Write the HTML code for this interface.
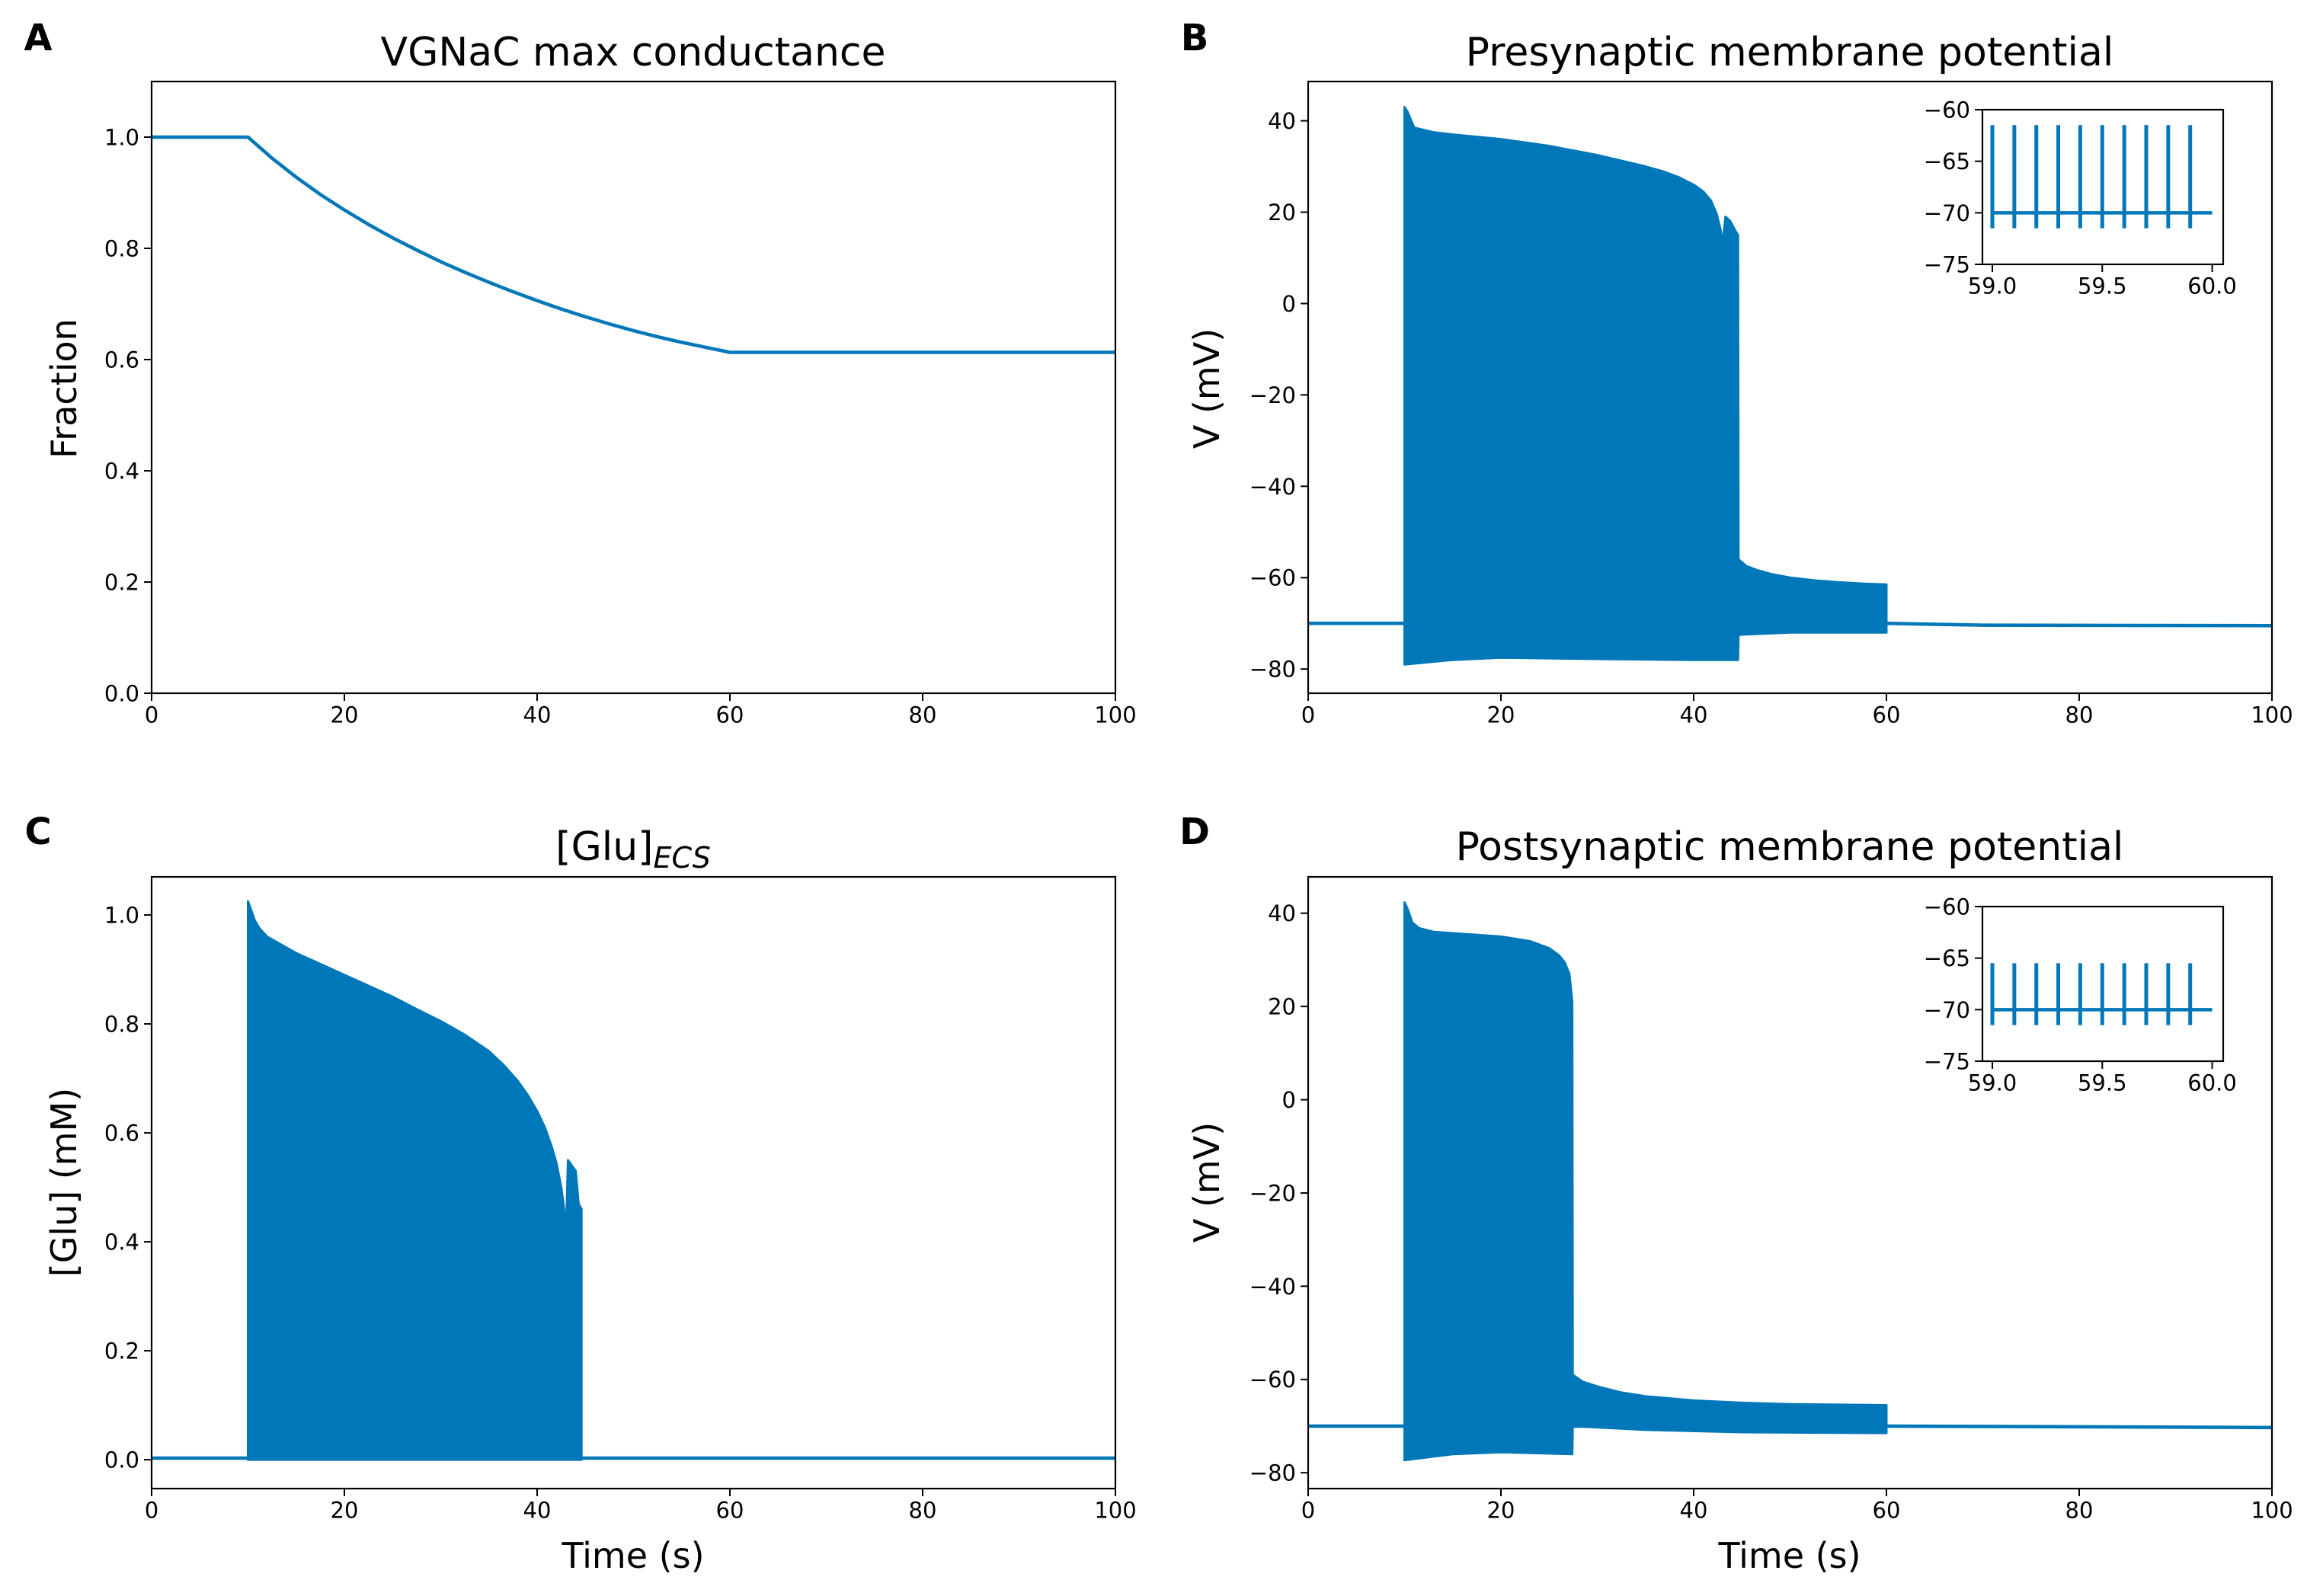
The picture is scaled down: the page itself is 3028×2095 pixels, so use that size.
<!DOCTYPE html>
<html><head><meta charset="utf-8">
<style>
html,body{margin:0;padding:0;background:#fff;}
svg{display:block;}
text{font-family:"DejaVu Sans","Liberation Sans",sans-serif;fill:#000;}
</style></head>
<body>
<svg id="fig" width="3028" height="2095" viewBox="0 0 3028 2095" xmlns="http://www.w3.org/2000/svg"></svg>
<script>
// ---- Panel A data ----
const aTime = [0,10,12.5,15,17.5,20,22.5,25,27.5,30,32.5,35,37.5,40,42.5,45,47.5,50,52.5,55,57.5,60,100];
const aFrac = [1,1,0.962,0.928,0.897,0.869,0.843,0.819,0.797,0.776,0.757,0.739,0.722,0.706,0.691,0.677,0.664,0.652,0.641,0.631,0.622,0.613,0.613];
const aYTicks = [0,0.2,0.4,0.6,0.8,1.0];
const xTicks = [0,20,40,60,80,100];

// ---- Panel B data ----
const bUpperT = [10,10.3,11,13,15,20,25,30,35,37,38.5,40,41,41.8,42.4,42.8,43,43.3,43.8,44.3,44.6,44.65,45.5,46.5,48,50,52.5,55,57.5,60];
const bUpperV = [43,42,38.5,37.5,37,36,34.5,32.5,30,28.8,27.6,26,24.5,22.5,19.5,16,13,19,18,16,15,-56,-57.5,-58.3,-59.2,-60,-60.6,-61,-61.3,-61.5];
const bLowerT = [10,11,15,20,30,40,44.6,44.65,50,60];
const bLowerV = [-79,-78.8,-78,-77.5,-77.8,-78,-78,-72.5,-72,-72];
const bBaseT = [0,10,60,70,100];
const bBaseV = [-70,-70,-70,-70.4,-70.5];
const bYTicks = [-80,-60,-40,-20,0,20,40];

// ---- Panel C data ----
const cUpperT = [10,10.3,10.7,11.2,12,13,15,17.5,20,22.5,25,27.5,30,32.5,35,36.5,38,39,40,40.8,41.5,42,42.5,42.8,43,43.2,43.6,44,44.3,44.6];
const cUpperG = [1.025,1.01,0.99,0.975,0.96,0.95,0.93,0.91,0.89,0.87,0.85,0.827,0.805,0.78,0.75,0.725,0.695,0.67,0.64,0.61,0.575,0.545,0.50,0.46,0.41,0.55,0.54,0.53,0.47,0.46];
const cBaseT = [0,100];
const cBaseG = [0.003,0.003];
const cYTicks = [0,0.2,0.4,0.6,0.8,1.0];

// ---- Panel D data ----
const dUpperT = [10,10.3,10.8,11.5,13,15,20,23,25,26,26.6,27.1,27.4,27.45,28.5,30,32.5,35,40,45,50,60];
const dUpperV = [42.3,41,38,36.8,36,35.7,35,34,32.5,31,29.5,27,21,-59,-60.5,-61.5,-62.8,-63.6,-64.5,-65,-65.3,-65.5];
const dLowerT = [10,15,20,27.4,27.45,35,45,60];
const dLowerV = [-77.3,-76,-75.6,-76,-70,-70.8,-71.3,-71.5];
const dBaseT = [0,10,60,100];
const dBaseV = [-70,-70,-70,-70.3];
const dYTicks = [-80,-60,-40,-20,0,20,40];

// ---- Inset data ----
const insetSpikeT = [59.0,59.1,59.2,59.3,59.4,59.5,59.6,59.7,59.8,59.9];
const insetBSpikeTop = -61.5, insetBSpikeBot = -71.5, insetBBase = -70;
const insetDSpikeTop = -65.5, insetDSpikeBot = -71.5, insetDBase = -70;
const insetYTicks = [-75,-70,-65,-60];
const insetXTicks = [59.0,59.5,60.0];
const insetXLabels = ["59.0","59.5","60.0"];

const C = "#0077b8";
const svg = document.getElementById('fig');
const NS = "http://www.w3.org/2000/svg";
function mk(tag, attrs, parent){
  const e = document.createElementNS(NS, tag);
  for (const k in attrs) e.setAttribute(k, attrs[k]);
  (parent||svg).appendChild(e);
  return e;
}
function scale(d0,d1,p0,p1){ return v => p0 + (v-d0)/(d1-d0)*(p1-p0); }
function fmt(v,dec){ const s = v.toFixed(dec); return s.replace('-', '\u2212'); }

function axes(name, L, R, T, B, xlim, ylim, yTicks, yDec, xTickList, xLabels, fs){
  const g = mk('g', {});
  
  
  const sx = scale(xlim[0], xlim[1], L, R);
  const sy = scale(ylim[0], ylim[1], B, T);
  return {g, sx, sy, L, R, T, B, yTicks, yDec, xTickList, xLabels, fs};
}
function frame(ax){
  const f = mk('rect', {x:ax.L, y:ax.T, width:ax.R-ax.L, height:ax.B-ax.T, fill:'none', stroke:'#000', 'stroke-width':2.2}, ax.g);
  
  
  ax.yTicks.forEach(v => {
    const y = ax.sy(v);
    mk('line', {x1:ax.L-10, x2:ax.L, y1:y, y2:y, stroke:'#000', 'stroke-width':2}, ax.g);
    const t = mk('text', {x:ax.L-16, y:y+ax.fs*0.36, 'text-anchor':'end', 'font-size':ax.fs}, ax.g);
    
    
    t.textContent = fmt(v, ax.yDec);
  });
  ax.xTickList.forEach((v,i) => {
    const x = ax.sx(v);
    mk('line', {x1:x, x2:x, y1:ax.B, y2:ax.B+10, stroke:'#000', 'stroke-width':2}, ax.g);
    const t = mk('text', {x:x, y:ax.B+14+ax.fs*0.85, 'text-anchor':'middle', 'font-size':ax.fs}, ax.g);
    
    
    t.textContent = ax.xLabels[i];
  });
}
function line(ax, ts, vs, w, name){
  const p = mk('polyline', {points: ts.map((t,i)=>ax.sx(t)+','+ax.sy(vs[i])).join(' '), fill:'none', stroke:C, 'stroke-width':w, 'stroke-linejoin':'round'}, ax.g);
  
  
}
function band(ax, uT, uV, lT, lV, name){
  let pts = uT.map((t,i)=>ax.sx(t)+','+ax.sy(uV[i]));
  for (let i=lT.length-1;i>=0;i--) pts.push(ax.sx(lT[i])+','+ax.sy(lV[i]));
  const p = mk('polygon', {points: pts.join(' '), fill:C, stroke:C, 'stroke-width':3, 'stroke-linejoin':'round'}, ax.g);
  
  
}
function text(x,y,s,fs,name,extra){
  const t = mk('text', Object.assign({x:x, y:y, 'font-size':fs, 'text-anchor':'middle'}, extra||{}));
  
  
  t.textContent = s;
  return t;
}
const xLab = xTicks.map(v=>String(v));
const FS = 29;

// Panel A
const axA = axes('panel-a', 199, 1464, 107, 910, [0,100], [0,1.1], aYTicks, 1, xTicks, xLab, FS);
line(axA, aTime, aFrac, 4.5, 'conductance-line');
frame(axA);
// Panel B
const axB = axes('panel-b', 1717, 2982, 107, 910, [0,100], [-85.3,48.6], bYTicks, 0, xTicks, xLab, FS);
line(axB, bBaseT, bBaseV, 4.5, 'presynaptic-baseline');
band(axB, bUpperT, bUpperV, bLowerT, bLowerV, 'presynaptic-spike-band');
frame(axB);
// Panel C
const axC = axes('panel-c', 199, 1464, 1151, 1954, [0,100], [-0.053,1.07], cYTicks, 1, xTicks, xLab, FS);
line(axC, cBaseT, cBaseG, 4.5, 'glu-baseline');
band(axC, cUpperT, cUpperG, [cUpperT[0], cUpperT[cUpperT.length-1]], [0,0], 'glu-band');
frame(axC);
// Panel D
const axD = axes('panel-d', 1717, 2982, 1151, 1954, [0,100], [-83.4,47.8], dYTicks, 0, xTicks, xLab, FS);
line(axD, dBaseT, dBaseV, 4.5, 'postsynaptic-baseline');
band(axD, dUpperT, dUpperV, dLowerT, dLowerV, 'postsynaptic-spike-band');
frame(axD);

// Insets
function inset(name, dy, top, bot, base){
  const ax = axes(name, 2602, 2918, 144+dy, 347+dy, [58.955,60.05], [-75,-60], insetYTicks, 0, insetXTicks, insetXLabels, FS);
  mk('rect', {x:ax.L, y:ax.T, width:ax.R-ax.L, height:ax.B-ax.T, fill:'#fff', stroke:'none'}, ax.g);
  line(ax, [59.0, 60.0], [base, base], 4.5, 'inset-baseline');
  insetSpikeT.forEach(t => {
    const l = mk('line', {x1:ax.sx(t), x2:ax.sx(t), y1:ax.sy(top), y2:ax.sy(bot), stroke:C, 'stroke-width':5}, ax.g);
    
    
  });
  frame(ax);
}
inset('inset-b', 0, insetBSpikeTop, insetBSpikeBot, insetBBase);
inset('inset-d', 1046, insetDSpikeTop, insetDSpikeBot, insetDBase);

// Titles & labels
const TF = 52;
text(831, 86, 'VGNaC max conductance', TF, 'title-a');
text(2349, 86, 'Presynaptic membrane potential', TF, 'title-b');
const tc = text(831, 1129, '[Glu]', TF, 'title-c');
const sub = document.createElementNS(NS,'tspan');
sub.setAttribute('font-size', 38); sub.setAttribute('font-style','italic'); sub.setAttribute('dy', 10);
sub.textContent = 'ECS'; tc.appendChild(sub);
text(2349, 1129, 'Postsynaptic membrane potential', TF, 'title-d');
const AF = 46;
text(831, 2058, 'Time (s)', AF, 'x-axis-title-c');
text(2349, 2058, 'Time (s)', AF, 'x-axis-title-d');
text(0, 0, 'Fraction', AF, 'y-axis-title-a', {transform:'translate(100,510) rotate(-90)'});
text(0, 0, 'V (mV)', AF, 'y-axis-title-b', {transform:'translate(1600,510) rotate(-90)'});
text(0, 0, '[Glu] (mM)', AF, 'y-axis-title-c', {transform:'translate(100,1552) rotate(-90)'});
text(0, 0, 'V (mV)', AF, 'y-axis-title-d', {transform:'translate(1600,1552) rotate(-90)'});
const LF = 48;
text(50, 66, 'A', LF, 'panel-label-a', {'font-weight':'bold'});
text(1568, 66, 'B', LF, 'panel-label-b', {'font-weight':'bold'});
text(50, 1108, 'C', LF, 'panel-label-c', {'font-weight':'bold'});
text(1568, 1108, 'D', LF, 'panel-label-d', {'font-weight':'bold'});
</script>
</body></html>
